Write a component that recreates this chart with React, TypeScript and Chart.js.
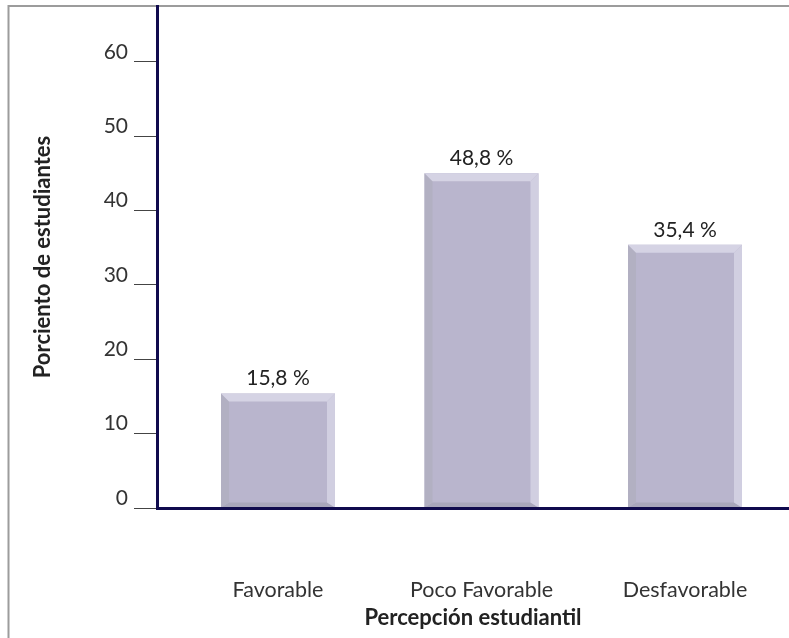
import React, { useEffect, useRef } from "react";
import { Chart, registerables } from "chart.js";

Chart.register(...registerables);

const categories: string[] = ["Favorable", "Poco Favorable", "Desfavorable"];
// bar heights as drawn in the picture
const barValues: number[] = [15.4, 45.0, 35.4];
// value labels printed above the bars
const valueLabels: string[] = ["15,8 %", "48,8 %", "35,4 %"];
const yTicks: number[] = [0, 10, 20, 30, 40, 50, 60];
const yTitle = "Porciento de estudiantes";
const xTitle = "Percepción estudiantil";

const FONT = "Lato, 'Open Sans', sans-serif";
const NAVY = "#100b4e";

const framePlugin = {
  id: "frame",
  beforeDraw(chart: any) {
    const { ctx, width, height } = chart;
    ctx.save();
    ctx.fillStyle = "#ffffff";
    ctx.fillRect(0, 0, width, height);
    ctx.strokeStyle = "#9c9c9c";
    ctx.lineWidth = 2;
    ctx.beginPath();
    ctx.moveTo(8.5, height);
    ctx.lineTo(8.5, 6);
    ctx.lineTo(width, 6);
    ctx.stroke();
    ctx.restore();
  },
};

const bevelPlugin = {
  id: "bevel",
  afterDatasetsDraw(chart: any) {
    const { ctx } = chart;
    const meta = chart.getDatasetMeta(0);
    const b = 8;
    const bb = 5;
    ctx.save();
    meta.data.forEach((el: any, i: number) => {
      const { x, y, base, width } = el.getProps(["x", "y", "base", "width"], true);
      const L = x - width / 2;
      const R = x + width / 2;
      const T = y;
      const B = base;
      const poly = (pts: number[][], color: string) => {
        ctx.fillStyle = color;
        ctx.beginPath();
        ctx.moveTo(pts[0][0], pts[0][1]);
        for (let k = 1; k < pts.length; k++) ctx.lineTo(pts[k][0], pts[k][1]);
        ctx.closePath();
        ctx.fill();
      };
      poly([[L, B], [L + b, B - bb], [R - b, B - bb], [R, B]], "#a9a7bb");
      poly([[L, T], [L + b, T + b], [L + b, B - bb], [L, B]], "#b2b0c2");
      poly([[R, T], [R, B], [R - b, B - bb], [R - b, T + b]], "#d1cfe1");
      poly([[L, T], [R, T], [R - b, T + b], [L + b, T + b]], "#d5d3e4");

      ctx.fillStyle = "#222222";
      ctx.font = `21px ${FONT}`;
      ctx.textAlign = "center";
      ctx.textBaseline = "alphabetic";
      ctx.fillText(valueLabels[i], x, T - 8);
    });
    ctx.restore();
  },
};

const noPad = (scale: any) => {
  scale.paddingLeft = 0;
  scale.paddingRight = 0;
  scale.paddingTop = 0;
  scale.paddingBottom = 0;
};

export default function App() {
  const ref = useRef<HTMLCanvasElement | null>(null);

  useEffect(() => {
    if (!ref.current) return;
    const chart = new Chart(ref.current, {
      type: "bar",
      data: {
        datasets: [
          {
            data: categories.map((_, i) => ({ x: i, y: barValues[i] })),
            backgroundColor: "#b9b5cd",
            borderWidth: 0,
            barPercentage: 0.56,
            categoryPercentage: 1,
          },
        ],
      },
      options: {
        animation: false,
        responsive: true,
        maintainAspectRatio: false,
        layout: { padding: { left: 0, top: 6, right: 0, bottom: 0 } },
        plugins: {
          legend: { display: false },
          tooltip: { enabled: false },
        },
        scales: {
          x: {
            type: "linear",
            offset: false,
            min: -0.5946,
            max: 2.511,
            afterBuildTicks: (scale: any) => {
              scale.ticks = categories.map((_, i) => ({ value: i }));
            },
            afterFit: (scale: any) => {
              scale.height = 130;
              noPad(scale);
            },
            ticks: {
              autoSkip: false,
              maxRotation: 0,
              padding: 69,
              color: "#333333",
              font: { family: FONT, size: 21.5 },
              callback: (v: any) => categories[v as number] ?? "",
            },
            grid: { drawOnChartArea: false, drawTicks: false },
            border: { display: true, color: NAVY, width: 3, z: 1 },
            title: {
              display: true,
              text: xTitle,
              color: "#222222",
              font: { family: FONT, size: 22, weight: "bold" },
              padding: { top: 0, bottom: 7 },
            },
          },
          y: {
            min: 0,
            max: 67.5,
            afterBuildTicks: (scale: any) => {
              scale.ticks = yTicks.map((v) => ({ value: v }));
            },
            afterFit: (scale: any) => {
              scale.width = 157;
              noPad(scale);
            },
            ticks: {
              padding: 6,
              labelOffset: -10,
              color: "#333333",
              font: { family: FONT, size: 21 },
            },
            grid: {
              drawOnChartArea: false,
              drawTicks: true,
              tickLength: 23,
              color: "#444444",
              lineWidth: 1,
            },
            border: { display: true, color: NAVY, width: 3, z: 1 },
            title: {
              display: true,
              text: yTitle,
              color: "#222222",
              font: { family: FONT, size: 22, weight: "bold" },
              padding: { top: 30, bottom: 0 },
            },
          },
        },
      },
      plugins: [framePlugin, bevelPlugin],
    });
    return () => chart.destroy();
  }, []);

  return (
    <div style={{ position: "absolute", left: 0, top: 0, width: 789, height: 638 }}>
      <canvas ref={ref} />
    </div>
  );
}
